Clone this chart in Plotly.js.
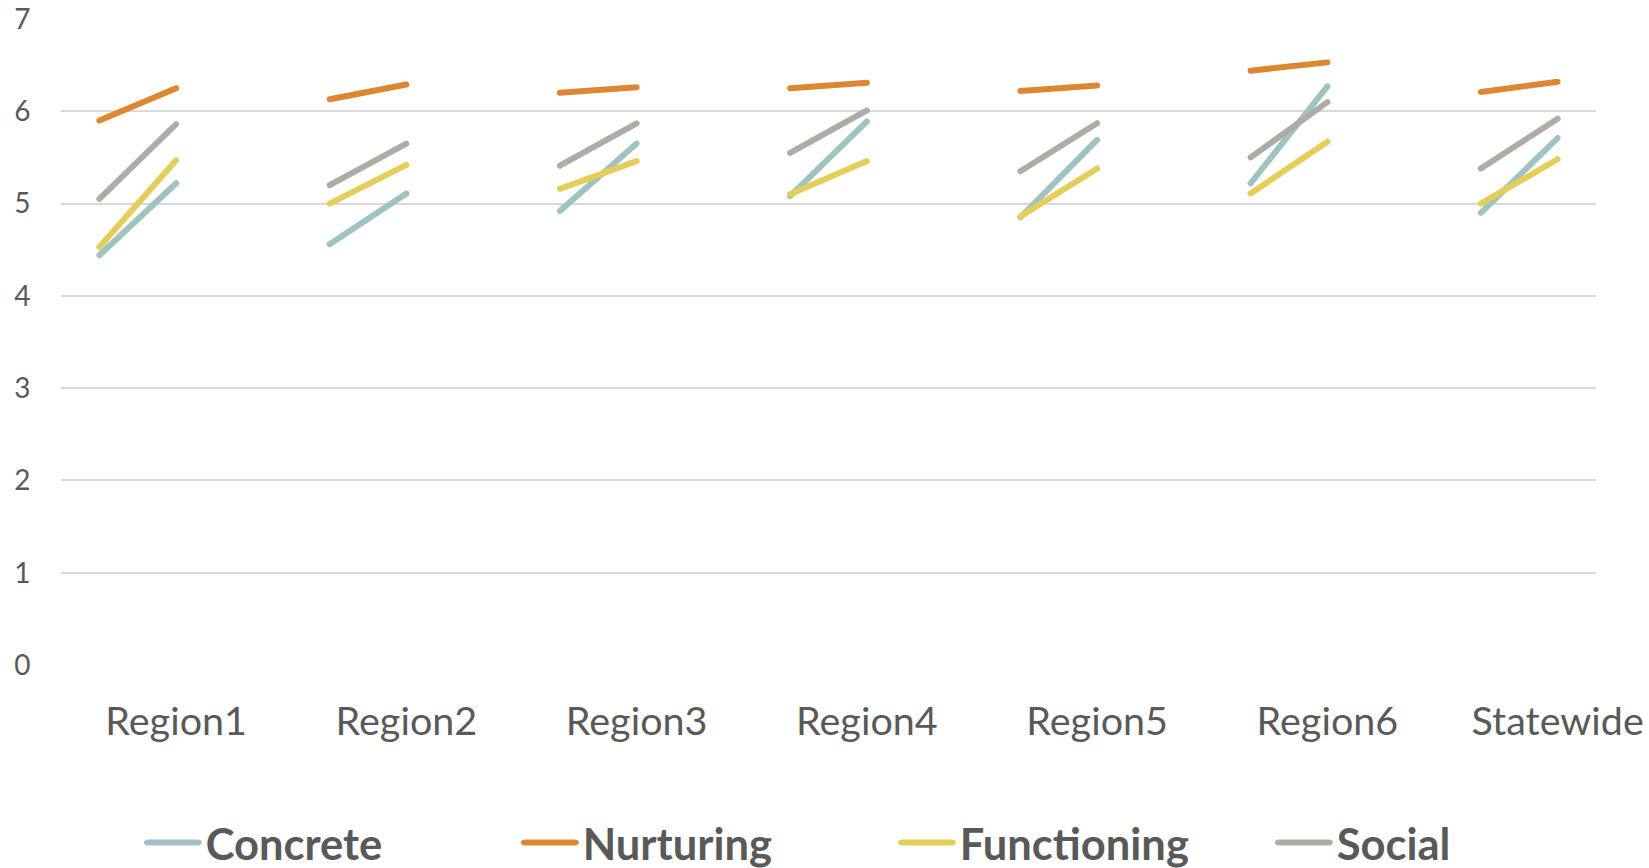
<!DOCTYPE html>
<html>
<head>
<meta charset="utf-8">
<script src="https://cdn.plot.ly/plotly-3.0.1.min.js"></script>
<style>
  html, body { margin: 0; padding: 0; background: #ffffff; }
  #chart { width: 1649px; height: 868px; }
  .scatterlayer path.js-line { stroke-linecap: round; }
  .legend .legendlines path { stroke-linecap: round; transform: scaleX(1.61); }
  .legend text.legendtext { transform: translateX(25px); }
</style>
</head>
<body>
<div id="chart"></div>
<script>
// ---- data ----
var categories = ["Region1", "Region2", "Region3", "Region4", "Region5", "Region6", "Statewide"];
var seriesNames = ["Concrete", "Nurturing", "Functioning", "Social"];

var concretePre   = [4.44, 4.56, 4.92, 5.08, 4.85, 5.22, 4.90];
var concretePost  = [5.22, 5.11, 5.65, 5.89, 5.69, 6.27, 5.71];
var nurturingPre  = [5.90, 6.13, 6.20, 6.25, 6.22, 6.44, 6.21];
var nurturingPost = [6.25, 6.29, 6.26, 6.31, 6.28, 6.53, 6.32];
var functioningPre  = [4.53, 5.00, 5.16, 5.10, 4.86, 5.11, 5.00];
var functioningPost = [5.47, 5.42, 5.46, 5.46, 5.38, 5.67, 5.48];
var socialPre  = [5.05, 5.20, 5.41, 5.55, 5.35, 5.50, 5.38];
var socialPost = [5.86, 5.65, 5.87, 6.01, 5.87, 6.10, 5.92];

var colors = ["#9EC3C1", "#DE8732", "#E4CD58", "#ADACA7"];

// ---- build traces: one segment (pre -> post) per category ----
function buildXY(pre, post) {
  var x = [], y = [];
  for (var i = 0; i < categories.length; i++) {
    x.push(3 * i, 3 * i + 1, null);
    y.push(pre[i], post[i], null);
  }
  return {x: x, y: y};
}

var pairs = [
  [concretePre, concretePost],
  [nurturingPre, nurturingPost],
  [functioningPre, functioningPost],
  [socialPre, socialPost]
];

var traces = pairs.map(function (p, k) {
  var xy = buildXY(p[0], p[1]);
  return {
    type: "scatter",
    mode: "lines",
    name: seriesNames[k],
    x: xy.x,
    y: xy.y,
    connectgaps: false,
    line: {color: colors[k], width: 6},
    hoverinfo: "y+name"
  };
});

var tickPositions = categories.map(function (c, i) { return 3 * i + 1; });

var layout = {
  width: 1649,
  height: 868,
  margin: {l: 61, r: 52.5, t: 19, b: 203},
  paper_bgcolor: "#ffffff",
  plot_bgcolor: "#ffffff",
  font: {family: "Lato, sans-serif", color: "#595959"},
  showlegend: true,
  legend: {
    orientation: "h",
    xref: "container",
    yref: "container",
    x: 0.0853,
    xanchor: "left",
    y: 0.029,
    yanchor: "middle",
    font: {family: "Lato, sans-serif", size: 43.5, color: "#595959", weight: "bold"},
    entrywidth: 332,
    entrywidthmode: "pixels",
    itemwidth: 30,
    traceorder: "normal"
  },
  xaxis: {
    range: [-0.5, 19.5],
    tickmode: "array",
    tickvals: tickPositions,
    ticktext: categories,
    showgrid: false,
    zeroline: false,
    showline: false,
    ticks: "outside",
    ticklen: 22,
    tickcolor: "rgba(0,0,0,0)",
    tickfont: {family: "Lato, sans-serif", size: 39.5, color: "#595959"},
    fixedrange: true
  },
  yaxis: {
    range: [0, 7],
    dtick: 1,
    tick0: 0,
    showgrid: true,
    gridcolor: "#D9D9D9",
    gridwidth: 2,
    zeroline: false,
    showline: false,
    ticks: "outside",
    ticklen: 24,
    tickcolor: "rgba(0,0,0,0)",
    tickfont: {family: "Lato, sans-serif", size: 28, color: "#595959"},
    fixedrange: true
  }
};

Plotly.newPlot("chart", traces, layout, {displayModeBar: false});
</script>
</body>
</html>
